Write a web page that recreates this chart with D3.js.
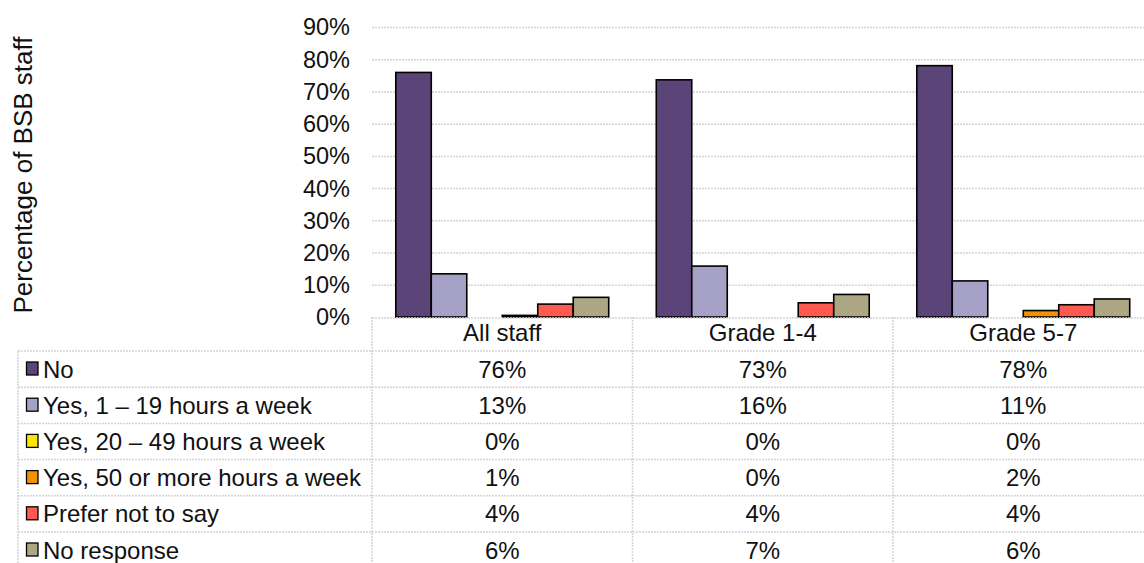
<!DOCTYPE html>
<html>
<head>
<meta charset="utf-8">
<script src="https://cdn.jsdelivr.net/npm/d3@7"></script>
<style>
  body { margin: 0; background: #fff; }
  svg { display: block; font-family: "Liberation Sans", Arial, sans-serif; }
</style>
</head>
<body>
<div id="chart"></div>
<script>
const categories = ["All staff", "Grade 1-4", "Grade 5-7"];
const seriesNames = [
  "No",
  "Yes, 1 \u2013 19 hours a week",
  "Yes, 20 \u2013 49 hours a week",
  "Yes, 50 or more hours a week",
  "Prefer not to say",
  "No response"
];
// bar heights (percent)
const noValues = [75.9, 73.6, 78.0];
const yes1to19Values = [13.4, 15.8, 11.2];
const yes20to49Values = [0, 0, 0];
const yes50plusValues = [0.5, 0, 2.0];
const preferNotValues = [4.0, 4.4, 3.8];
const noResponseValues = [6.1, 7.0, 5.6];
// percentages printed in the data table
const tableLabels = [
  ["76%", "73%", "78%"],
  ["13%", "16%", "11%"],
  ["0%", "0%", "0%"],
  ["1%", "0%", "2%"],
  ["4%", "4%", "4%"],
  ["6%", "7%", "6%"]
];
const yTicks = [0, 10, 20, 30, 40, 50, 60, 70, 80, 90];

const seriesValues = [noValues, yes1to19Values, yes20to49Values, yes50plusValues, preferNotValues, noResponseValues];
const colors = ["#5b4478", "#a6a1c6", "#ffe600", "#f39200", "#ff5a4f", "#aca682"];

const width = 1144, height = 563;
const fontSize = 24;
const gridColor = "#d4d4d4";

const svg = d3.select("#chart")
  .append("svg")
    .attr("width", width)
    .attr("height", height);

const y = d3.scaleLinear()
  .domain([0, 90])
  .range([317, 27]);

const x = d3.scaleBand()
  .domain(categories)
  .range([372, 372 + 3 * 260.5]);

const xSub = d3.scaleBand()
  .domain(seriesNames)
  .range([0, x.bandwidth()])
  .paddingOuter(0.67);

// gridlines
svg.append("g")
  .selectAll("line")
  .data(yTicks.filter(t => t > 0))
  .join("line")
    .attr("x1", 372)
    .attr("x2", width)
    .attr("y1", d => y(d) + 0.5)
    .attr("y2", d => y(d) + 0.5)
    .attr("stroke", gridColor)
    .attr("stroke-width", 1.5)
    .attr("stroke-dasharray", "2,1");

// y tick labels
svg.append("g")
  .selectAll("text")
  .data(yTicks)
  .join("text")
    .attr("x", 350)
    .attr("y", d => y(d))
    .attr("dy", "0.36em")
    .attr("text-anchor", "end")
    .style("font-size", "23.5px")
    .style("fill", "#111")
    .text(d => d + "%");

// y axis title
svg.append("text")
  .attr("transform", `translate(32, 175) rotate(-90)`)
  .attr("text-anchor", "middle")
  .style("font-size", "26px")
  .style("fill", "#111")
  .text("Percentage of BSB staff");

// bars
const groups = svg.append("g")
  .selectAll("g")
  .data(categories)
  .join("g")
    .attr("transform", d => `translate(${x(d)}, 0)`);

groups.selectAll("rect")
  .data((c, ci) => seriesNames.map((s, si) => ({ series: s, si, value: seriesValues[si][ci] })))
  .join("rect")
    .attr("x", d => xSub(d.series))
    .attr("y", d => y(d.value))
    .attr("width", xSub.bandwidth())
    .attr("height", d => y(0) - y(d.value))
    .attr("fill", d => colors[d.si])
    .attr("stroke", "#000")
    .attr("stroke-width", 1.6);

// data table
const rowH = 36.2;
const headerTop = 317, tableTop = 351;
const tableLeft = 18;
const table = svg.append("g");

// horizontal lines
table.append("line")
  .attr("x1", 372).attr("x2", width)
  .attr("y1", headerTop + 1).attr("y2", headerTop + 1);
table.selectAll("line.row")
  .data(d3.range(seriesNames.length + 1))
  .join("line")
    .attr("class", "row")
    .attr("x1", tableLeft).attr("x2", width)
    .attr("y1", i => tableTop + i * rowH)
    .attr("y2", i => tableTop + i * rowH);
// vertical lines
table.append("line")
  .attr("x1", tableLeft).attr("x2", tableLeft)
  .attr("y1", tableTop).attr("y2", height);
table.selectAll("line.col")
  .data(categories)
  .join("line")
    .attr("class", "col")
    .attr("x1", d => x(d)).attr("x2", d => x(d))
    .attr("y1", headerTop).attr("y2", height);
table.selectAll("line")
  .attr("stroke", gridColor)
  .attr("stroke-width", 1.5)
  .attr("stroke-dasharray", "2,1");

// column headers
table.selectAll("text.head")
  .data(categories)
  .join("text")
    .attr("class", "head")
    .attr("x", d => x(d) + x.bandwidth() / 2)
    .attr("y", 341)
    .attr("text-anchor", "middle")
    .style("font-size", `${fontSize}px`)
    .style("fill", "#111")
    .text(d => d);

// legend rows
const rows = table.selectAll("g.row")
  .data(seriesNames)
  .join("g")
    .attr("class", "row")
    .attr("transform", (d, i) => `translate(0, ${tableTop + i * rowH})`);

rows.append("rect")
  .attr("x", 26.5)
  .attr("y", 11)
  .attr("width", 11.5)
  .attr("height", 13)
  .attr("fill", (d, i) => colors[i])
  .attr("stroke", "#000")
  .attr("stroke-width", 1.3);

rows.append("text")
  .attr("x", 43)
  .attr("y", 26.5)
  .style("font-size", `${fontSize}px`)
  .style("fill", "#111")
  .text(d => d);

rows.selectAll("text.val")
  .data((d, i) => tableLabels[i])
  .join("text")
    .attr("class", "val")
    .attr("x", (d, ci) => x(categories[ci]) + x.bandwidth() / 2)
    .attr("y", 26.5)
    .attr("text-anchor", "middle")
    .style("font-size", `${fontSize}px`)
    .style("fill", "#111")
    .text(d => d);
</script>
</body>
</html>
